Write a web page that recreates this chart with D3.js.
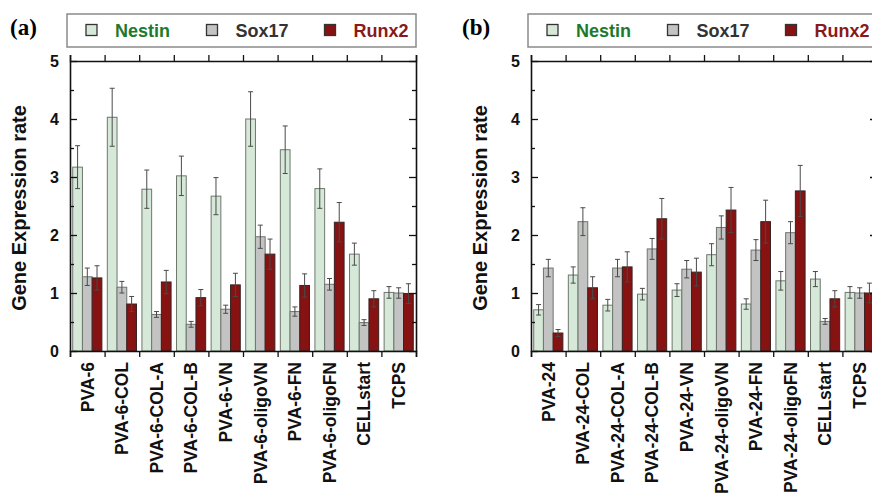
<!DOCTYPE html>
<html>
<head>
<meta charset="utf-8">
<script src="https://cdn.jsdelivr.net/npm/d3@7"></script>
<style>
  body { margin: 0; background: #fff; }
  svg { display: block; }
</style>
</head>
<body>
<div id="chart"></div>
<script>
// categories of the two panels
var categoriesA = ["PVA-6", "PVA-6-COL", "PVA-6-COL-A", "PVA-6-COL-B", "PVA-6-VN",
                   "PVA-6-oligoVN", "PVA-6-FN", "PVA-6-oligoFN", "CELLstart", "TCPS"];
var categoriesB = ["PVA-24", "PVA-24-COL", "PVA-24-COL-A", "PVA-24-COL-B", "PVA-24-VN",
                   "PVA-24-oligoVN", "PVA-24-FN", "PVA-24-oligoFN", "CELLstart", "TCPS"];
var genes = ["Nestin", "Sox17", "Runx2"];
var yTicks = [0, 1, 2, 3, 4, 5];

// panel (a) values + error bars
var nestinA  = [3.17, 4.03, 2.79, 3.02, 2.67, 4.00, 3.47, 2.80, 1.67, 1.01];
var nestinErrA = [0.37, 0.50, 0.33, 0.34, 0.32, 0.47, 0.41, 0.34, 0.19, 0.10];
var sox17A   = [1.28, 1.10, 0.63, 0.46, 0.72, 1.97, 0.68, 1.15, 0.49, 1.00];
var sox17ErrA  = [0.15, 0.10, 0.05, 0.05, 0.07, 0.20, 0.08, 0.10, 0.05, 0.09];
var runx2A   = [1.26, 0.81, 1.19, 0.92, 1.14, 1.67, 1.13, 2.22, 0.90, 0.99];
var runx2ErrA  = [0.21, 0.13, 0.20, 0.14, 0.20, 0.26, 0.20, 0.34, 0.14, 0.17];

// panel (b) values + error bars
var nestinB  = [0.71, 1.31, 0.79, 0.98, 1.05, 1.66, 0.81, 1.21, 1.24, 1.01];
var nestinErrB = [0.09, 0.14, 0.10, 0.10, 0.11, 0.19, 0.09, 0.16, 0.13, 0.10];
var sox17B   = [1.43, 2.23, 1.43, 1.76, 1.41, 2.13, 1.74, 2.04, 0.51, 1.00];
var sox17ErrB  = [0.15, 0.24, 0.15, 0.18, 0.15, 0.20, 0.18, 0.19, 0.05, 0.09];
var runx2B   = [0.31, 1.09, 1.45, 2.28, 1.36, 2.43, 2.23, 2.76, 0.90, 1.00];
var runx2ErrB  = [0.06, 0.19, 0.26, 0.35, 0.24, 0.39, 0.37, 0.44, 0.14, 0.17];

var fills = {"Nestin": "#d6e9d9", "Sox17": "#c3c3c3", "Runx2": "#861212"};
var textColors = {"Nestin": "#1d7a2c", "Sox17": "#333333", "Runx2": "#8a1a1a"};

var margin = {top: 61},
    width = 346,
    height = 290;

var svg = d3.select("#chart")
  .append("svg")
    .attr("width", 872)
    .attr("height", 495)
    .style("font-family", "'Liberation Sans', Arial, sans-serif");

function drawPanel(left, tag, tagX, cats, series) {
  // panel letter
  svg.append("text")
    .attr("x", tagX)
    .attr("y", 35)
    .style("font-family", "'Liberation Serif', 'Times New Roman', serif")
    .style("font-weight", "bold")
    .style("font-size", "23px")
    .text(tag);

  // legend box
  var lx = left - 3;
  svg.append("rect")
    .attr("x", lx).attr("y", 14)
    .attr("width", 349).attr("height", 33)
    .attr("fill", "none")
    .attr("stroke", "#8a8a8a")
    .attr("stroke-width", 1.5);
  var itemX = [19, 139.5, 257.5];
  genes.forEach(function(gene, i) {
    svg.append("rect")
      .attr("x", lx + itemX[i]).attr("y", 24.5)
      .attr("width", 11).attr("height", 11)
      .attr("fill", fills[gene])
      .attr("stroke", "#333")
      .attr("stroke-width", 1.3);
    svg.append("text")
      .attr("x", lx + itemX[i] + 29)
      .attr("y", 37)
      .attr("fill", textColors[gene])
      .style("font-weight", "bold")
      .style("font-size", "18px")
      .text(gene);
  });

  var g = svg.append("g")
    .attr("transform", "translate(" + left + "," + margin.top + ")");

  var x = d3.scaleBand().domain(cats).range([0, width]);
  var xEdge = d3.scaleLinear().domain([0, cats.length]).range([0, width]);
  var xSub = d3.scaleBand().domain(genes).range([0, x.bandwidth()]).paddingOuter(0.28);
  var y = d3.scaleLinear().domain([0, 5]).range([height, 0]);

  // bars
  series.forEach(function(s) {
    var rows = cats.map(function(c, i) { return {cat: c, v: s.values[i], e: s.errs[i]}; });
    g.selectAll(null)
      .data(rows)
      .enter()
      .append("rect")
        .attr("x", function(d) { return x(d.cat) + xSub(s.gene) })
        .attr("y", function(d) { return y(d.v) })
        .attr("width", xSub.bandwidth())
        .attr("height", function(d) { return height - y(d.v) })
        .attr("fill", fills[s.gene])
        .attr("stroke", s.gene == "Runx2" ? "#3a2222" : "#6e766e")
        .attr("stroke-width", 1);

    // error bars
    var eb = g.selectAll(null)
      .data(rows)
      .enter()
      .append("g")
        .attr("transform", function(d) {
          return "translate(" + (x(d.cat) + xSub(s.gene) + xSub.bandwidth() / 2) + ",0)";
        })
        .attr("stroke", "#4a4a4a")
        .attr("stroke-width", 1);
    eb.append("line")
      .attr("y1", function(d) { return y(d.v - d.e) })
      .attr("y2", function(d) { return y(d.v + d.e) });
    eb.append("line")
      .attr("x1", -2.5).attr("x2", 2.5)
      .attr("y1", function(d) { return y(d.v + d.e) })
      .attr("y2", function(d) { return y(d.v + d.e) });
    eb.append("line")
      .attr("x1", -2.5).attr("x2", 2.5)
      .attr("y1", function(d) { return y(d.v - d.e) })
      .attr("y2", function(d) { return y(d.v - d.e) });
  });

  var minor = d3.range(0.5, 5, 1);

  // left axis (labels + inward ticks)
  g.append("g")
    .attr("class", "axis")
    .call(d3.axisLeft(y).tickValues(yTicks).tickFormat(d3.format("d"))
      .tickSizeInner(-7).tickSizeOuter(0).tickPadding(11))
    .call(function(a) {
      a.selectAll("text")
        .style("font-size", "16px")
        .style("font-weight", "bold")
        .attr("fill", "#111");
    });
  g.append("g")
    .call(d3.axisLeft(y).tickValues(minor).tickFormat("").tickSizeInner(-4).tickSizeOuter(0))
    .select(".domain").remove();

  // right axis
  g.append("g")
    .attr("transform", "translate(" + width + ",0)")
    .call(d3.axisRight(y).tickValues(yTicks).tickFormat("").tickSizeInner(-7).tickSizeOuter(0));
  g.append("g")
    .attr("transform", "translate(" + width + ",0)")
    .call(d3.axisRight(y).tickValues(minor).tickFormat("").tickSizeInner(-4).tickSizeOuter(0))
    .select(".domain").remove();

  // top + bottom edges with outward ticks at category boundaries
  g.append("g")
    .call(d3.axisTop(xEdge).ticks(cats.length).tickFormat("").tickSize(6));
  g.append("g")
    .attr("transform", "translate(0," + height + ")")
    .call(d3.axisBottom(xEdge).ticks(cats.length).tickFormat("").tickSize(6));

  // category labels
  g.append("g")
    .attr("transform", "translate(0," + height + ")")
    .call(d3.axisBottom(x).tickSize(0))
    .call(function(a) {
      a.select(".domain").remove();
      a.selectAll("text")
        .attr("transform", "rotate(-90)")
        .attr("x", -11)
        .attr("y", 0)
        .attr("dy", "0.36em")
        .style("text-anchor", "end")
        .style("font-size", "17.5px")
        .style("font-weight", "bold")
        .attr("fill", "#111");
    });

  svg.selectAll(".domain").attr("stroke", "#111").attr("stroke-width", 1.6);
  svg.selectAll(".tick line").attr("stroke", "#111").attr("stroke-width", 1.3);

  // y title
  svg.append("text")
    .attr("transform", "translate(" + (left - 51) + "," + (margin.top + 147) + ") rotate(-90)")
    .attr("dy", "0.36em")
    .style("text-anchor", "middle")
    .style("font-size", "20px")
    .style("font-weight", "bold")
    .attr("fill", "#111")
    .text("Gene Expression rate");
}

drawPanel(70, "(a)", 10, categoriesA, [
  {gene: "Nestin", values: nestinA, errs: nestinErrA},
  {gene: "Sox17", values: sox17A, errs: sox17ErrA},
  {gene: "Runx2", values: runx2A, errs: runx2ErrA}
]);
drawPanel(531, "(b)", 462, categoriesB, [
  {gene: "Nestin", values: nestinB, errs: nestinErrB},
  {gene: "Sox17", values: sox17B, errs: sox17ErrB},
  {gene: "Runx2", values: runx2B, errs: runx2ErrB}
]);
</script>
</body>
</html>
